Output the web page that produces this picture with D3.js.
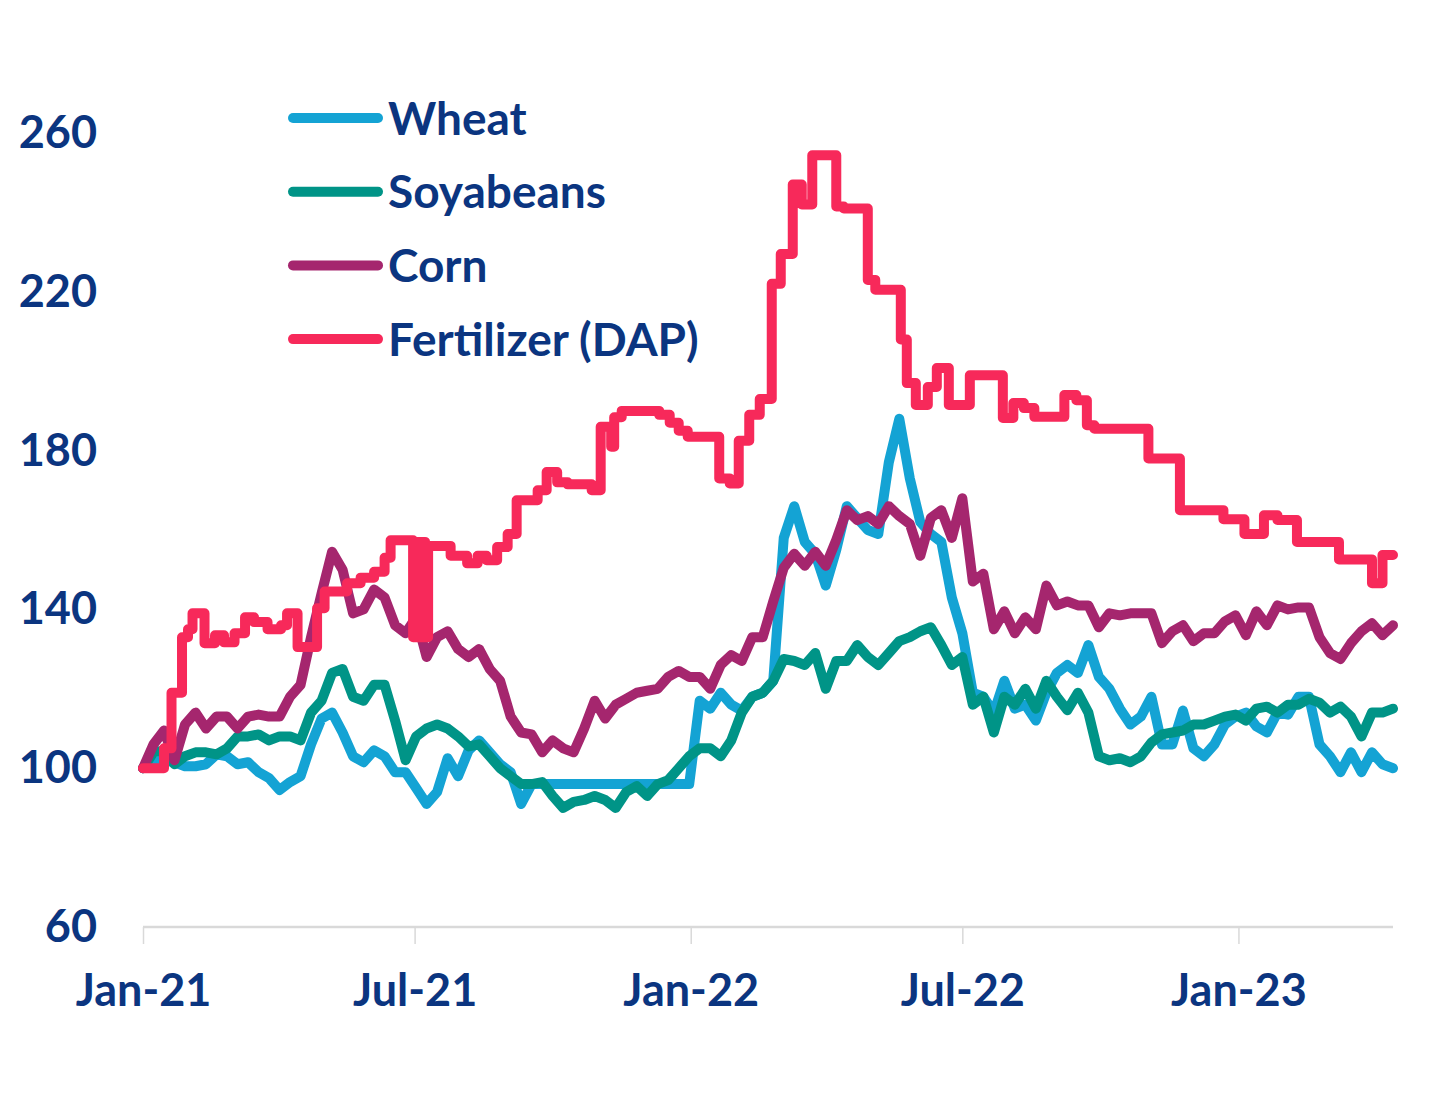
<!DOCTYPE html>
<html>
<head>
<meta charset="utf-8">
<script src="https://cdn.jsdelivr.net/npm/d3@7"></script>
<style>
  html, body { margin: 0; padding: 0; background: #ffffff; }
  svg { display: block; }
  text { font-family: Lato, "Open Sans", sans-serif; font-weight: 700; }
</style>
</head>
<body>
<svg id="chart" width="1449" height="1093"></svg>
<script>
// ---------- DATA ----------
const seriesNames = ["Wheat", "Soyabeans", "Corn", "Fertilizer (DAP)"];
const seriesColors = ["#14a3d4", "#009487", "#a5266e", "#f7295a"];

const startDate = "2021-01-01";
const weekCount = 120;   // weekly observations from startDate

const wheat = [100,101.5,102,101.5,100.5,100.5,101,103.5,103,101,101.5,99,97.5,94.5,96.5,98,106,112.5,114,109,
  103,101.5,104.5,103,99,99,95,91,94,102.5,98,104.5,107,104,101,99,91,96,96,96,
  96,96,96,96,96,96,96,96,96,96,96,96,96,117,115,119,116,114.5,118,119,
  122,158,166,157,154,146,155,166,163,160,159,177,188,173,162,159,157,143,134,119,
  118,114,122,115,116,112,119,124,126,124,131,123,120,115,111,113,118,106,106,114.5,
  105,103,106,111,113,114,110.5,109,114,113.5,118,118,106,103,99,104,99,104,101,100];

const soybeans = [100,104,104.5,101,103,104,104,103.5,105,108,108,108.5,107,108,108,107,114,117,124,125,
  118,117,121,121,112,102,108,110,111,110,108,105.5,106,103,100,98,96,96,96.5,93,
  90,91.5,92,93,92,90,94,95.5,93,96,97,100,103,105,105,103,107,114,118,119,
  122,127.5,127,126,129,120,127,127,131,128,126,129,132,133,134.5,135.5,131,126,128,116,
  118,109,118,116,120,115,122,118,114.6,119,114,103,102,102.5,101.5,103,106.5,108.5,109,109.5,
  111,111,112,113,113.5,112,115,115.5,114,116,116,117.5,116.5,114,115.5,113,108,114,114,115];

const corn = [100,106,109.5,102,111,114,110,113,113,110,113,113.5,113,113,118,121,133,144,154.5,150,
  139,140,145,143,136,134,138,128,133,134.5,130,128,130,125,122,113,109,108.5,104,107,
  105,104,110,117,112.5,116,117.5,119,119.5,120,123,124.5,123,123,120,126,128.5,127,133,133,
  142,150.5,154,151,154.5,151,157.5,165,162.5,163.5,161.5,166,163.5,161.5,153.5,163,165,158,168,147,
  149,135,139.5,134,138,135,146,141,142,141,141,135.5,139,138.5,139,139,139,131.5,134.5,136,
  132,134,134,137,138.5,133.5,139.5,136,141,140,140.5,140.5,133,129,127.5,131.5,134.5,136.5,133.5,136];

// Fertilizer (DAP) changes in steps: each value holds from its date until the next date
const dapDates = [
  "2021-01-01","2021-01-15","2021-01-20","2021-01-27","2021-01-31","2021-02-03","2021-02-11","2021-02-18",
  "2021-02-24","2021-03-03","2021-03-10","2021-03-16","2021-03-25","2021-04-03","2021-04-07","2021-04-14",
  "2021-04-27","2021-05-02","2021-05-17","2021-05-26","2021-06-04","2021-06-11","2021-06-15","2021-06-30",
  "2021-07-01","2021-07-02","2021-07-03","2021-07-04","2021-07-05","2021-07-06","2021-07-07","2021-07-08",
  "2021-07-10","2021-07-25","2021-08-05","2021-08-12","2021-08-18","2021-08-25","2021-09-01","2021-09-07",
  "2021-09-21","2021-09-27","2021-10-04","2021-10-11","2021-10-27","2021-11-02","2021-11-09","2021-11-11",
  "2021-11-16","2021-12-11","2021-12-18","2021-12-24","2021-12-30","2022-01-20","2022-01-27","2022-02-02",
  "2022-02-09","2022-02-16","2022-02-24","2022-03-02","2022-03-10","2022-03-16","2022-03-23","2022-04-08",
  "2022-04-13","2022-04-29","2022-05-04","2022-05-21","2022-05-25","2022-05-31","2022-06-08","2022-06-14",
  "2022-06-22","2022-07-06","2022-07-28","2022-08-04","2022-08-11","2022-08-18","2022-09-07","2022-09-15",
  "2022-09-22","2022-09-27","2022-11-02","2022-11-23","2022-12-22","2023-01-05","2023-01-18","2023-01-27",
  "2023-02-09","2023-03-09","2023-03-31","2023-04-07","2023-04-14"];
const dapValues = [
  100,105,119,133,135,139,131.5,133.5,
  131.7,134,138,136.8,135,136,139,130.5,
  140.3,144.5,146.6,148,149.5,153,157.4,133,
  157,133,157,133,157,133,157,133,
  156,153.5,151.6,153.5,152.4,155.7,159,167.5,
  170,174.6,172,171.5,170,186,181,188.4,
  190,189,187,185,183.5,173,171.7,182.5,
  189,193,222,229.5,247,242,254.4,241.5,
  241,223,220.5,208,197,191.5,196,200.8,
  191.5,199,188.2,192,190.7,188.5,194,192.7,
  186.4,185.5,178,165,162.7,159,163.7,162.5,
  157,152.6,146.6,153.7,153.7];

const yTicks = [60, 100, 140, 180, 220, 260];
const xTickDates = ["2021-01-01", "2021-07-01", "2022-01-01", "2022-07-01", "2023-01-01"];

// ---------- CHART ----------
const parse = d3.utcParse("%Y-%m-%d");
const start = parse(startDate);
const weekDates = d3.range(weekCount).map(i => d3.utcDay.offset(start, 7 * i));
const endDate = weekDates[weekDates.length - 1];

const svg = d3.select("#chart");
const navy = "#0b3580";
const lineW = 10;

const x = d3.scaleUtc().domain([start, endDate]).range([143, 1393]);
const y = d3.scaleLinear().domain([60, 260]).range([927, 133]);

// x axis
const xAxis = d3.axisBottom(x)
  .tickValues(xTickDates.map(parse))
  .tickFormat(d3.utcFormat("%b-%y"))
  .tickSize(17)
  .tickPadding(30);
const gx = svg.append("g").attr("transform", "translate(0,927)").call(xAxis);
gx.select(".domain").attr("stroke", "#d9d9d9").attr("stroke-width", 2.5)
  .attr("d", `M${x.range()[0]},0H${x.range()[1]}`);
gx.selectAll(".tick line").attr("stroke", "#d9d9d9").attr("stroke-width", 1.5);
gx.selectAll(".tick text").attr("fill", navy).attr("font-size", 45)
  .style("font-family", "Lato, 'Open Sans', sans-serif").style("font-weight", 700);

// y axis
const yAxis = d3.axisLeft(y).tickValues(yTicks).tickSize(0).tickPadding(0);
const gy = svg.append("g").attr("transform", "translate(97,0)").call(yAxis);
gy.select(".domain").remove();
gy.selectAll(".tick text").attr("fill", navy).attr("font-size", 45)
  .style("font-family", "Lato, 'Open Sans', sans-serif").style("font-weight", 700);

// lines
const lineWeekly = d3.line().x((d, i) => x(weekDates[i])).y(d => y(d)).curve(d3.curveLinear);
const dapPoints = dapDates.map((d, i) => ({ date: parse(d), value: dapValues[i] }));
const lineStep = d3.line().x(d => x(d.date)).y(d => y(d.value)).curve(d3.curveStepAfter);

const plot = svg.append("g");
[wheat, soybeans, corn].forEach((s, k) => {
  plot.append("path").datum(s)
    .attr("d", lineWeekly)
    .attr("fill", "none")
    .attr("stroke", seriesColors[k])
    .attr("stroke-width", lineW)
    .attr("stroke-linejoin", "round")
    .attr("stroke-linecap", "round");
});
plot.append("path").datum(dapPoints)
  .attr("d", lineStep)
  .attr("fill", "none")
  .attr("stroke", seriesColors[3])
  .attr("stroke-width", lineW)
  .attr("stroke-linejoin", "round")
  .attr("stroke-linecap", "round");

// legend
const legend = svg.append("g");
seriesNames.forEach((name, k) => {
  const ly = 118 + k * 73.7;
  legend.append("line")
    .attr("x1", 293).attr("x2", 378).attr("y1", ly).attr("y2", ly)
    .attr("stroke", seriesColors[k]).attr("stroke-width", lineW).attr("stroke-linecap", "round");
  legend.append("text")
    .attr("x", 388).attr("y", ly).attr("dy", "0.36em")
    .attr("fill", navy).attr("font-size", 46)
    .text(name);
});
</script>
</body>
</html>
